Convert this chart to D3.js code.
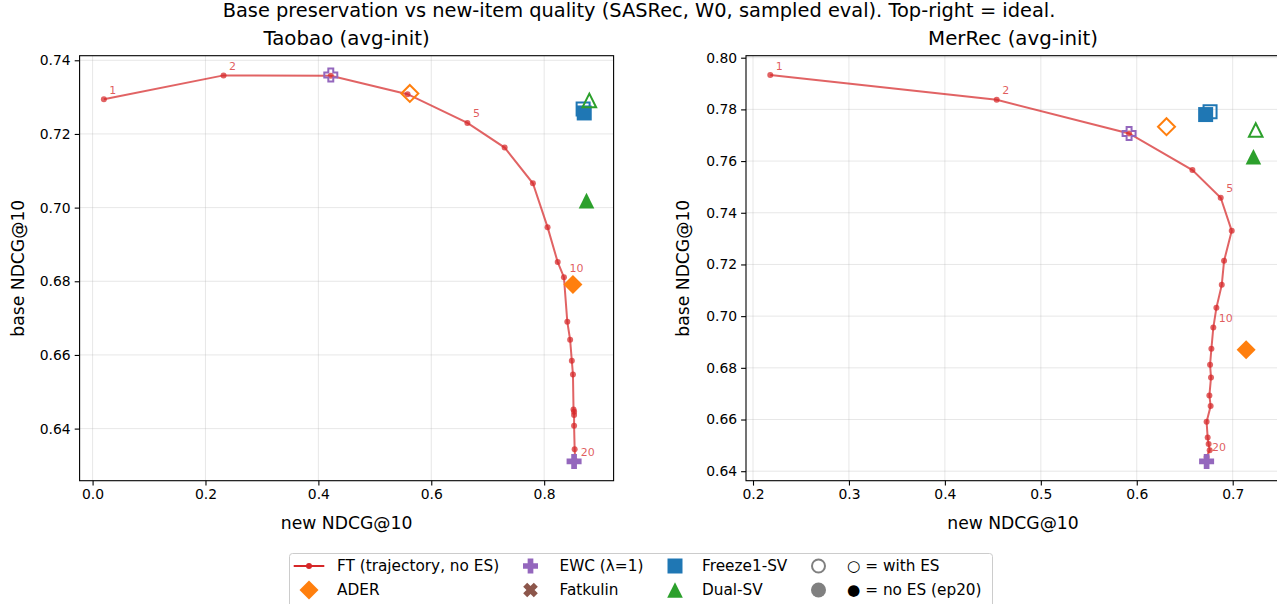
<!DOCTYPE html>
<html>
<head>
<meta charset="utf-8">
<script src="https://cdn.jsdelivr.net/npm/d3@7"></script>
<style>
  body { margin: 0; background: #fff; }
  svg { display: block; font-family: "DejaVu Sans", sans-serif; }
</style>
</head>
<body>
<svg id="chart" width="1277" height="604"></svg>
<script>
// FT trajectory, epochs 1..20
const taobaoNew  = [0.020, 0.232, 0.422, 0.558, 0.664, 0.730, 0.780, 0.806, 0.824, 0.835,
                    0.841, 0.846, 0.849, 0.851, 0.852, 0.853, 0.853, 0.853, 0.854, 0.855]
const taobaoBase = [0.7294, 0.7359, 0.7358, 0.7308, 0.7230, 0.7163, 0.7066, 0.6947, 0.6852, 0.6811,
                    0.6690, 0.6641, 0.6584, 0.6547, 0.6452, 0.6446, 0.6437, 0.6408, 0.6344, 0.6312]
const merrecNew  = [0.218, 0.454, 0.592, 0.658, 0.6875, 0.699, 0.691, 0.6886, 0.683, 0.6798,
                    0.6778, 0.6764, 0.6774, 0.6757, 0.6770, 0.6728, 0.6739, 0.6749, 0.6760, 0.6728]
const merrecBase = [0.7933, 0.7837, 0.7707, 0.7565, 0.7458, 0.7330, 0.7214, 0.7121, 0.7032, 0.6956,
                    0.6874, 0.6812, 0.6763, 0.6693, 0.6652, 0.6591, 0.6530, 0.6505, 0.6481, 0.6455]
const labelledEpochs = [1, 2, 5, 10, 20]

// method points: [method, withES, new, base]
const taobaoMethods = [
  ["EWC", true, 0.422, 0.7360],
  ["ADER", true, 0.562, 0.7310],
  ["Freeze1-SV", true, 0.869, 0.7268],
  ["Freeze1-SV", false, 0.871, 0.7257],
  ["Dual-SV", true, 0.880, 0.7291],
  ["Dual-SV", false, 0.875, 0.7019],
  ["ADER", false, 0.851, 0.6791],
  ["EWC", false, 0.853, 0.6311]
]
const merrecMethods = [
  ["EWC", true, 0.592, 0.7707],
  ["ADER", true, 0.631, 0.7733],
  ["Freeze1-SV", true, 0.6764, 0.7791],
  ["Freeze1-SV", false, 0.6718, 0.7780],
  ["Dual-SV", true, 0.724, 0.7720],
  ["Dual-SV", false, 0.7216, 0.7617],
  ["ADER", false, 0.714, 0.6870],
  ["EWC", false, 0.6728, 0.6438]
]

const taobaoXTicks = [0.0, 0.2, 0.4, 0.6, 0.8]
const taobaoYTicks = [0.64, 0.66, 0.68, 0.70, 0.72, 0.74]
const merrecXTicks = [0.2, 0.3, 0.4, 0.5, 0.6, 0.7]
const merrecYTicks = [0.64, 0.66, 0.68, 0.70, 0.72, 0.74, 0.76, 0.78, 0.80]

const styles = {
  "EWC":        {color: "#9467bd", shape: "plus",     h: 7.5},
  "ADER":       {color: "#ff7f0e", shape: "diamond",  h: 9.5},
  "Freeze1-SV": {color: "#1f77b4", shape: "square",   h: 7.5},
  "Dual-SV":    {color: "#2ca02c", shape: "triangle", h: 7.8},
  "Fatkulin":   {color: "#8c564b", shape: "x",        h: 7.5}
}
const ftColor = "#d62728"

function markerPath(shape, h) {
  if (shape == "diamond") return `M0,${-h}L${h},0L0,${h}L${-h},0Z`
  if (shape == "square") return `M${-h},${-h}H${h}V${h}H${-h}Z`
  if (shape == "triangle") return `M0,${-h}L${h},${h}L${-h},${h}Z`
  if (shape == "circle") return `M${h},0A${h},${h} 0 1,1 ${-h},0A${h},${h} 0 1,1 ${h},0Z`
  const t = h * 0.38
  let pts = [[-t,-h],[t,-h],[t,-t],[h,-t],[h,t],[t,t],[t,h],[-t,h],[-t,t],[-h,t],[-h,-t],[-t,-t]]
  if (shape == "x") {
    const c = Math.SQRT1_2
    pts = pts.map(([x, y]) => [(x - y) * c, (x + y) * c])
  }
  return "M" + pts.map(p => p.join(",")).join("L") + "Z"
}

const svg = d3.select("#chart")

svg.append("text")
  .attr("x", 639).attr("y", 17)
  .attr("text-anchor", "middle")
  .attr("font-size", 19.4)
  .text("Base preservation vs new-item quality (SASRec, W0, sampled eval). Top-right = ideal.")

function padded(vals) {
  const [lo, hi] = d3.extent(vals)
  const m = (hi - lo) * 0.05
  return [lo - m, hi + m]
}

function drawPanel(opts) {
  const {left, title, ftX, ftY, methods, xTicks, yTicks, fmtX, ylabelX} = opts
  const top = 55.7, bottom = 480.7, right = left + 534

  const allX = ftX.concat(methods.map(d => d[2]))
  const allY = ftY.concat(methods.map(d => d[3]))
  const x = d3.scaleLinear().domain(padded(allX)).range([left, right])
  const y = d3.scaleLinear().domain(padded(allY)).range([bottom, top])

  const g = svg.append("g")

  // grid
  g.append("g").selectAll("line").data(xTicks).join("line")
    .attr("x1", d => x(d)).attr("x2", d => x(d))
    .attr("y1", top).attr("y2", bottom)
    .attr("stroke", "#b0b0b0").attr("stroke-opacity", 0.3).attr("stroke-width", 1)
  g.append("g").selectAll("line").data(yTicks).join("line")
    .attr("x1", left).attr("x2", right)
    .attr("y1", d => y(d)).attr("y2", d => y(d))
    .attr("stroke", "#b0b0b0").attr("stroke-opacity", 0.3).attr("stroke-width", 1)

  // axes
  const xAxis = g.append("g")
    .attr("transform", `translate(0,${bottom})`)
    .call(d3.axisBottom(x).tickValues(xTicks).tickFormat(fmtX).tickSizeOuter(0).tickSize(4.9).tickPadding(4))
  const yAxis = g.append("g")
    .attr("transform", `translate(${left},0)`)
    .call(d3.axisLeft(y).tickValues(yTicks).tickFormat(d3.format(".2f")).tickSizeOuter(0).tickSize(4.9).tickPadding(4))
  for (const a of [xAxis, yAxis]) {
    a.select(".domain").remove()
    a.selectAll("line").attr("stroke", "#000").attr("stroke-width", 1.1)
    a.selectAll("text").attr("font-size", 13.9).attr("fill", "#000")
      .attr("font-family", "DejaVu Sans, sans-serif")
  }

  g.append("rect")
    .attr("x", left).attr("y", top)
    .attr("width", right - left).attr("height", bottom - top)
    .attr("fill", "none").attr("stroke", "#000").attr("stroke-width", 1.1)

  // FT trajectory
  const pts = ftX.map((v, i) => [v, ftY[i]])
  g.append("path")
    .attr("d", d3.line().x(d => x(d[0])).y(d => y(d[1]))(pts))
    .attr("fill", "none")
    .attr("stroke", ftColor).attr("stroke-opacity", 0.72).attr("stroke-width", 2)
  g.append("g").selectAll("circle").data(pts).join("circle")
    .attr("cx", d => x(d[0])).attr("cy", d => y(d[1])).attr("r", 3)
    .attr("fill", ftColor).attr("fill-opacity", 0.72)
  g.append("g").selectAll("text").data(labelledEpochs).join("text")
    .attr("x", d => x(ftX[d - 1]) + 5.5)
    .attr("y", d => y(ftY[d - 1]) - 5.5)
    .attr("font-size", 11)
    .attr("fill", ftColor).attr("fill-opacity", 0.75)
    .text(d => d)

  // methods
  g.append("g").selectAll("path").data(methods).join("path")
    .attr("transform", d => `translate(${x(d[2])},${y(d[3])})`)
    .attr("d", d => markerPath(styles[d[0]].shape, styles[d[0]].h - (d[1] ? 1 : 0)))
    .attr("fill", d => d[1] ? "none" : styles[d[0]].color)
    .attr("stroke", d => d[1] ? styles[d[0]].color : "none")
    .attr("stroke-width", 2)

  // titles
  g.append("text")
    .attr("x", (left + right) / 2).attr("y", 45)
    .attr("text-anchor", "middle").attr("font-size", 19.8)
    .text(title)
  g.append("text")
    .attr("x", (left + right) / 2).attr("y", 529)
    .attr("text-anchor", "middle").attr("font-size", 17.2)
    .text("new NDCG@10")
  g.append("text")
    .attr("transform", `translate(${ylabelX},${(top + bottom) / 2}) rotate(-90)`)
    .attr("text-anchor", "middle").attr("font-size", 17.2)
    .text("base NDCG@10")
}

drawPanel({left: 79.6, title: "Taobao (avg-init)", ftX: taobaoNew, ftY: taobaoBase,
  methods: taobaoMethods, xTicks: taobaoXTicks, yTicks: taobaoYTicks,
  fmtX: d3.format(".1f"), ylabelX: 24})
drawPanel({left: 746, title: "MerRec (avg-init)", ftX: merrecNew, ftY: merrecBase,
  methods: merrecMethods, xTicks: merrecXTicks, yTicks: merrecYTicks,
  fmtX: d3.format(".1f"), ylabelX: 689})

// legend
const legendItems = [
  {label: "FT (trajectory, no ES)", kind: "line", col: 0, row: 0},
  {label: "ADER", kind: "ADER", col: 0, row: 1},
  {label: "EWC (λ=1)", kind: "EWC", col: 1, row: 0},
  {label: "Fatkulin", kind: "Fatkulin", col: 1, row: 1},
  {label: "Freeze1-SV", kind: "Freeze1-SV", col: 2, row: 0},
  {label: "Dual-SV", kind: "Dual-SV", col: 2, row: 1},
  {label: "○ = with ES", kind: "open", col: 3, row: 0},
  {label: "● = no ES (ep20)", kind: "filled", col: 3, row: 1}
]
const colHandle = [309, 530.5, 675, 818.5]
const colText = [337, 559.5, 702, 847]
const rowY = [566, 590]

const legend = svg.append("g")
legend.append("rect")
  .attr("x", 289.5).attr("y", 553.5).attr("width", 703).attr("height", 60).attr("rx", 3)
  .attr("fill", "#fff").attr("fill-opacity", 0.8)
  .attr("stroke", "#cccccc").attr("stroke-width", 1)

const li = legend.selectAll("g").data(legendItems).join("g")
  .attr("transform", d => `translate(0,${rowY[d.row]})`)
li.each(function (d) {
  const el = d3.select(this)
  const cx = colHandle[d.col]
  if (d.kind == "line") {
    el.append("line").attr("x1", cx - 15.3).attr("x2", cx + 15.3)
      .attr("stroke", ftColor).attr("stroke-width", 2)
    el.append("circle").attr("cx", cx).attr("r", 3).attr("fill", ftColor)
  } else if (d.kind == "open" || d.kind == "filled") {
    el.append("path").attr("transform", `translate(${cx},0)`)
      .attr("d", markerPath("circle", d.kind == "open" ? 6.5 : 7.5))
      .attr("fill", d.kind == "open" ? "none" : "#808080")
      .attr("stroke", d.kind == "open" ? "#808080" : "none")
      .attr("stroke-width", 2)
  } else {
    el.append("path").attr("transform", `translate(${cx},0)`)
      .attr("d", markerPath(styles[d.kind].shape, styles[d.kind].h))
      .attr("fill", styles[d.kind].color)
  }
  el.append("text")
    .attr("x", colText[d.col]).attr("dy", "0.35em")
    .attr("font-size", 15.3)
    .text(d.label)
})
</script>
</body>
</html>
